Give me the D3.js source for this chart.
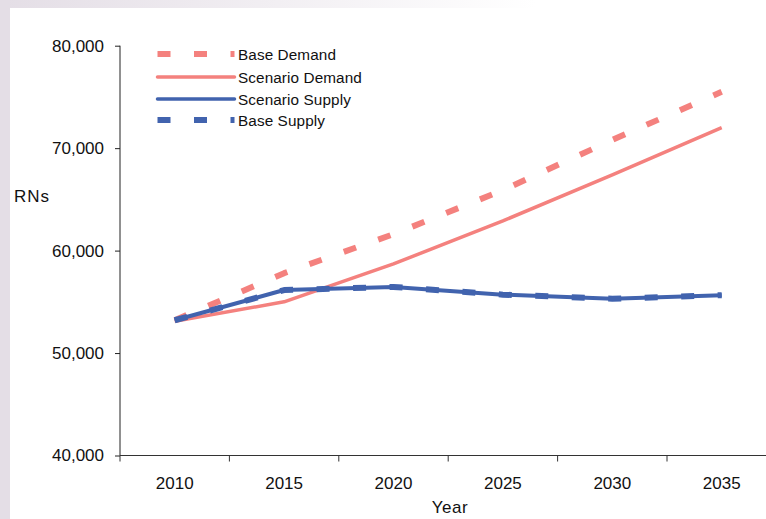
<!DOCTYPE html>
<html>
<head>
<meta charset="utf-8">
<script src="https://cdn.jsdelivr.net/npm/d3@7"></script>
<style>
  html, body { margin: 0; padding: 0; background: #fff; }
  svg { display: block; font-family: "Liberation Sans", Arial, sans-serif; }
</style>
</head>
<body>
<svg id="chart" width="766" height="519"></svg>
<script>
// ---- data ----
const years = [2010, 2015, 2020, 2025, 2030, 2035];
const baseDemand     = [53200, 57800, 61600, 65900, 70800, 75500];
const scenarioDemand = [53100, 55000, 58700, 62900, 67400, 72000];
const scenarioSupply = [53200, 56150, 56450, 55700, 55300, 55650];
const baseSupply     = [53200, 56150, 56450, 55700, 55300, 55650];
const yTicks = [40000, 50000, 60000, 70000, 80000];
const xTickLabels = [2010, 2015, 2020, 2025, 2030, 2035];
const seriesNames = ["Base Demand", "Scenario Demand", "Scenario Supply", "Base Supply"];

const pink = "#f4817e", blue = "#4163ae";
const styles = [
  { color: pink, width: 6, dash: "13,23.5" },
  { color: pink, width: 3.5, dash: null },
  { color: blue, width: 4, dash: null },
  { color: blue, width: 6, dash: "13,23.5" }
];
const seriesData = [baseDemand, scenarioDemand, scenarioSupply, baseSupply];

const svg = d3.select("#chart");

// background frame
const defs = svg.append("defs");
const grad = defs.append("linearGradient").attr("id", "topg").attr("x1", 0).attr("x2", 1).attr("y1", 0).attr("y2", 0);
grad.append("stop").attr("offset", 0).attr("stop-color", "#e4dee6");
grad.append("stop").attr("offset", 0.7).attr("stop-color", "#ffffff");
svg.append("rect").attr("x", 0).attr("y", 0).attr("width", 766).attr("height", 519).attr("fill", "#fff");
svg.append("rect").attr("x", 0).attr("y", 0).attr("width", 766).attr("height", 8).attr("fill", "url(#topg)");
svg.append("rect").attr("x", 0).attr("y", 0).attr("width", 10).attr("height", 519).attr("fill", "#e4dee6");

// scales
const x = d3.scaleLinear().domain([2007.5, 2037.5]).range([120, 776.4]);
const y = d3.scaleLinear().domain([40000, 80000]).range([455.5, 45.7]);

// y axis
const yAxis = svg.append("g").attr("transform", "translate(120,0)")
  .call(d3.axisLeft(y).tickValues(yTicks).tickSize(5).tickPadding(11)
    .tickFormat(d3.format(",")));
yAxis.select(".domain").attr("stroke", "#222").attr("d", `M0,${y(80000)}V${y(40000)}`);
yAxis.selectAll(".tick line").attr("stroke", "#222");
yAxis.selectAll("text").attr("font-size", 17).attr("fill", "#111")
  .attr("font-family", "'Liberation Sans', Arial, sans-serif");

// x axis line and ticks
const xg = svg.append("g");
xg.append("line").attr("x1", 120).attr("x2", 766).attr("y1", y(40000)).attr("y2", y(40000))
  .attr("stroke", "#333").attr("stroke-width", 1.2);
const xTickPos = d3.range(0, 7).map(i => 2007.5 + 5 * i);
xg.selectAll(".xt").data(xTickPos).join("line")
  .attr("x1", d => x(d)).attr("x2", d => x(d))
  .attr("y1", y(40000)).attr("y2", y(40000) + 6)
  .attr("stroke", "#333");
xg.selectAll(".xl").data(xTickLabels).join("text")
  .attr("x", d => x(d)).attr("y", 489)
  .attr("text-anchor", "middle").attr("font-size", 17).attr("fill", "#111")
  .text(d => d);

// axis titles
svg.append("text").attr("x", 14).attr("y", 202).attr("font-size", 17)
  .attr("letter-spacing", 1).attr("fill", "#111").text("RNs");
svg.append("text").attr("x", 450).attr("y", 513).attr("text-anchor", "middle")
  .attr("font-size", 17).attr("letter-spacing", 0.5).attr("fill", "#111").text("Year");

// lines
const line = d3.line().x(d => x(d[0])).y(d => y(d[1]));
seriesData.forEach((vals, i) => {
  const pts = years.map((yr, j) => [yr, vals[j]]);
  svg.append("path").datum(pts)
    .attr("d", line)
    .attr("fill", "none")
    .attr("stroke", styles[i].color)
    .attr("stroke-width", styles[i].width)
    .attr("stroke-dasharray", styles[i].dash)
    .attr("stroke-linejoin", "round");
});

// legend
const legY = [54, 77, 99, 120];
const leg = svg.append("g");
seriesNames.forEach((name, i) => {
  leg.append("line").attr("x1", 157.5).attr("x2", 234.5)
    .attr("y1", legY[i]).attr("y2", legY[i])
    .attr("stroke", styles[i].color)
    .attr("stroke-width", styles[i].dash ? 6 : 3.5)
    .attr("stroke-dasharray", styles[i].dash)
    .attr("stroke-linecap", styles[i].dash ? "butt" : "round");
  leg.append("text").attr("x", 238).attr("y", legY[i] + 1)
    .attr("dy", "0.35em").attr("font-size", 15.3).attr("letter-spacing", 0.1)
    .attr("fill", "#111").text(name);
});
</script>
</body>
</html>
